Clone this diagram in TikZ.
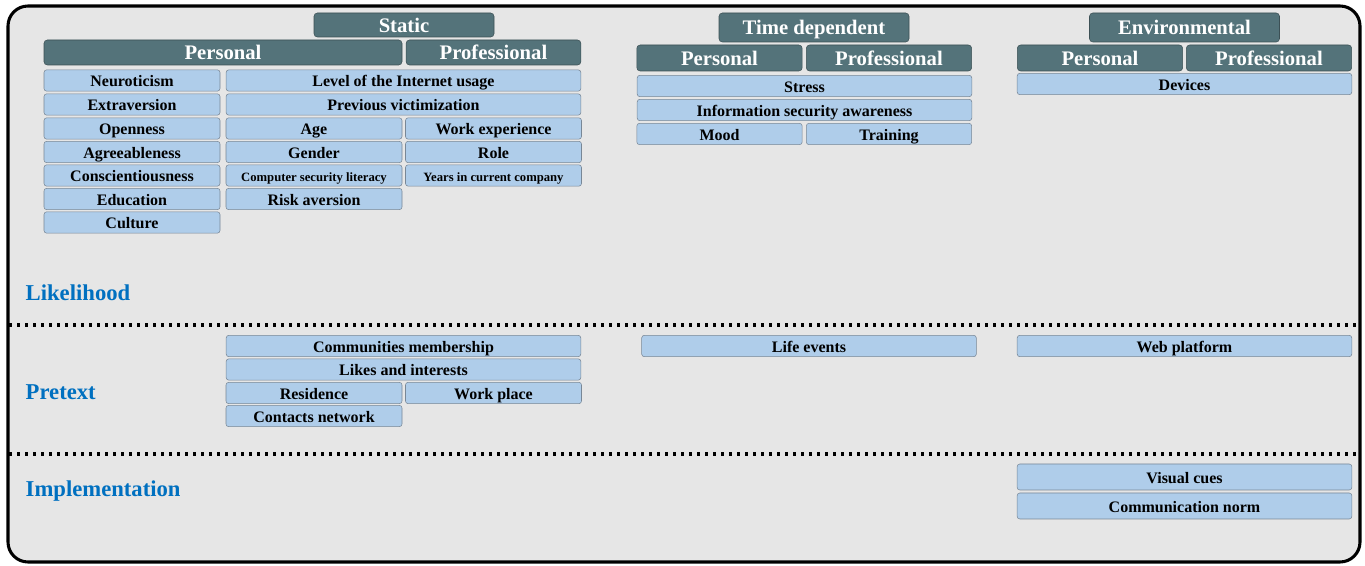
\documentclass[tikz,border=0pt]{standalone}
\usepackage{fontspec}
\setmainfont{Liberation Serif}
\usepackage{xcolor}
\usepackage{tikz}
\usetikzlibrary{positioning}

\definecolor{framegray}{RGB}{230,230,230}
\definecolor{headteal}{RGB}{84,115,122}
\definecolor{headline}{RGB}{60,80,85}
\definecolor{leafblue}{RGB}{175,205,234}
\definecolor{leafline}{RGB}{120,135,150}
\definecolor{labelblue}{RGB}{0,112,192}

\begin{document}
\begin{tikzpicture}[x=0.75pt,y=-0.75pt,
    head/.style={draw=headline,fill=headteal,text=white,rounded corners=2.5pt,
        inner sep=0pt,text height=12.5pt,text depth=1.5pt,
        font=\fontsize{15.5}{18}\bfseries\selectfont},
    leaf/.style={draw=leafline,fill=leafblue,rounded corners=2pt,inner sep=0pt,
        minimum height=16pt,text height=10.2pt,text depth=0.8pt,
        font=\fontsize{12}{14}\bfseries\selectfont},
    narrow/.style={leaf,minimum width=132pt},
    wide/.style={leaf,minimum width=266pt},
    half/.style={leaf,minimum width=124pt},
    full/.style={leaf,minimum width=251pt},
    small/.style={font=\fontsize{9.5}{11}\bfseries\selectfont},
    layer/.style={anchor=west,text=labelblue,font=\fontsize{17}{20}\bfseries\selectfont},
    divider/.style={line width=2.6pt,dash pattern=on 2.6pt off 3.4pt}]
    \useasboundingbox (0,0) rectangle (1365,566);
    \draw [line width=2.3pt,fill=framegray,rounded corners=15pt] (8,6) rectangle (1360,562);
    % likelihood: static
    \node [head,minimum width=135pt,minimum height=18pt] (static) at (404,25) {Static};
    \node [head,minimum width=268.5pt,minimum height=18.75pt] (stpers) at (223,52.5) {Personal};
    \node [head,minimum width=131pt,minimum height=18.75pt] (stprof) at (493.5,52.5) {Professional};
    \node [narrow] (neuro) at (132,80.5) {Neuroticism};
    \node [narrow] (extra) at (132,104.5) {Extraversion};
    \node [narrow] (open) at (132,128.5) {Openness};
    \node [narrow] (agree) at (132,152) {Agreeableness};
    \node [narrow] (consc) at (132,175.5) {Conscientiousness};
    \node [narrow] (educ) at (132,199) {Education};
    \node [narrow] (cult) at (132,222.5) {Culture};
    \node [wide] (usage) at (403.5,80.5) {Level of the Internet usage};
    \node [wide] (victim) at (403.5,104.5) {Previous victimization};
    \node [narrow] (age) at (314,128.5) {Age};
    \node [narrow] (gender) at (314,152) {Gender};
    \node [narrow,small] (literacy) at (314,175.5) {Computer security literacy};
    \node [narrow] (risk) at (314,199) {Risk aversion};
    \node [narrow] (workexp) at (493.5,128.5) {Work experience};
    \node [narrow] (role) at (493.5,152) {Role};
    \node [narrow,small] (years) at (493.5,175.5) {Years in current company};
    % likelihood: time dependent
    \node [head,minimum width=142.5pt,minimum height=21.75pt] (timedep) at (814,27.5) {Time dependent};
    \node [head,minimum width=124pt,minimum height=19.5pt] (tdpers) at (719.5,58) {Personal};
    \node [head,minimum width=124pt,minimum height=19.5pt] (tdprof) at (889,58) {Professional};
    \node [full] (stress) at (804.5,86) {Stress};
    \node [full] (awareness) at (804.5,110) {Information security awareness};
    \node [half] (mood) at (719.5,134) {Mood};
    \node [half] (training) at (889,134) {Training};
    % likelihood: environmental
    \node [head,minimum width=142.5pt,minimum height=21.75pt] (environ) at (1184.5,27.5) {Environmental};
    \node [head,minimum width=124pt,minimum height=19.5pt] (enpers) at (1100,58) {Personal};
    \node [head,minimum width=124pt,minimum height=19.5pt] (enprof) at (1269,58) {Professional};
    \node [full] (devices) at (1184.5,84) {Devices};
    \node [layer] (likelihood) at (21,293) {Likelihood};
    \draw [divider] (9,325) -- (1359,325);
    % pretext
    \node [wide] (communities) at (403.5,346) {Communities membership};
    \node [wide] (likes) at (403.5,369.5) {Likes and interests};
    \node [narrow] (residence) at (314,393) {Residence};
    \node [narrow] (workplace) at (493.5,393) {Work place};
    \node [narrow] (contacts) at (314,416) {Contacts network};
    \node [full] (lifeevents) at (809,346) {Life events};
    \node [full] (webplat) at (1184.5,346) {Web platform};
    \node [layer] (pretext) at (21,392) {Pretext};
    \draw [divider] (9,454) -- (1359,454);
    % implementation
    \node [full,minimum height=19.5pt] (visual) at (1184.5,477) {Visual cues};
    \node [full,minimum height=19.5pt] (commnorm) at (1184.5,506) {Communication norm};
    \node [layer] (implement) at (21,491) {Implementation};
\end{tikzpicture}
\end{document}
